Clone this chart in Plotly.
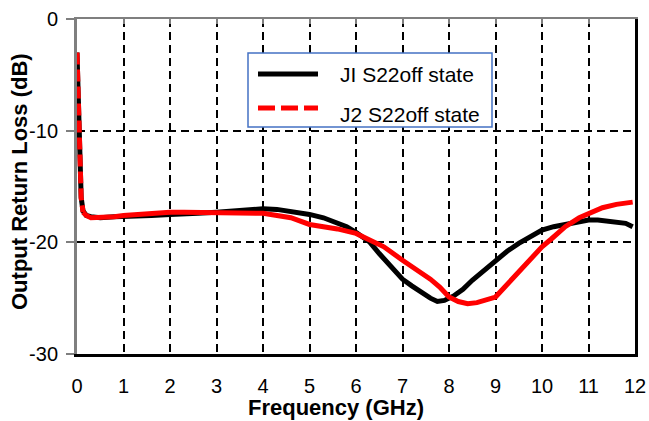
import plotly.graph_objects as go

# ---- data ----
freq_j1 = [0.0, 0.03, 0.06, 0.09, 0.13, 0.2, 0.3, 0.5, 0.8, 1.0, 1.3, 1.6, 2.0, 2.3, 2.6,
           3.0, 3.3, 3.6, 4.0, 4.3, 4.6, 5.0, 5.3, 5.5, 5.8, 6.0, 6.3, 6.5, 6.8, 7.0,
           7.2, 7.4, 7.6, 7.75, 7.9, 8.1, 8.3, 8.5, 8.75, 9.0, 9.25, 9.5, 9.75, 10.0,
           10.25, 10.5, 10.75, 11.0, 11.2, 11.4, 11.6, 11.8, 11.95]
loss_j1 = [-3.0, -8.0, -13.0, -16.0, -17.2, -17.6, -17.7, -17.8, -17.7, -17.7, -17.6,
           -17.6, -17.5, -17.5, -17.4, -17.3, -17.2, -17.1, -17.0, -17.05, -17.2, -17.5,
           -17.8, -18.1, -18.6, -19.1, -20.0, -21.0, -22.4, -23.3, -23.9, -24.5, -25.0,
           -25.3, -25.2, -24.8, -24.2, -23.4, -22.5, -21.6, -20.8, -20.1, -19.5, -18.9,
           -18.6, -18.4, -18.2, -18.0, -18.0, -18.1, -18.1, -18.3, -18.6]

freq_j2 = [0.0, 0.03, 0.06, 0.09, 0.13, 0.2, 0.3, 0.5, 0.8, 1.0, 1.3, 1.6, 2.0, 2.3, 2.6,
           3.0, 3.3, 3.6, 4.0, 4.3, 4.6, 5.0, 5.3, 5.6, 6.0, 6.3, 6.6, 7.0, 7.3, 7.6,
           7.8, 8.0, 8.2, 8.4, 8.6, 8.8, 9.0, 9.2, 9.5, 9.8, 10.0, 10.2, 10.5, 10.8,
           11.0, 11.3, 11.6, 11.95]
loss_j2 = [-3.0, -8.0, -13.0, -16.0, -17.3, -17.6, -17.8, -17.8, -17.7, -17.6, -17.5,
           -17.4, -17.3, -17.3, -17.3, -17.3, -17.3, -17.35, -17.4, -17.6, -17.8, -18.4,
           -18.6, -18.8, -19.2, -19.8, -20.4, -21.6, -22.4, -23.3, -24.0, -24.9, -25.3,
           -25.5, -25.4, -25.1, -24.9, -24.0, -22.6, -21.3, -20.4, -19.7, -18.6, -17.8,
           -17.4, -16.9, -16.6, -16.4]

series_names = ["JI S22off state", "J2 S22off state"]
x_ticks = list(range(0, 13))
y_ticks = [0, -10, -20, -30]
x_title = "Frequency (GHz)"
y_title = "Output Return Loss (dB)"

FONT = "Liberation Sans, Arial, sans-serif"
STEEP = 5  # first points of the steep drop, where the red dashes show over black

fig = go.Figure()
fig.add_trace(go.Scatter(x=freq_j1, y=loss_j1, mode="lines", name=series_names[0],
                         line=dict(color="black", width=5), showlegend=False))
fig.add_trace(go.Scatter(x=freq_j2[STEEP - 1:], y=loss_j2[STEEP - 1:], mode="lines",
                         name=series_names[1], line=dict(color="#FF0000", width=5),
                         showlegend=False))
fig.add_trace(go.Scatter(x=freq_j2[:STEEP], y=loss_j2[:STEEP], mode="lines",
                         name=series_names[1], line=dict(color="#FF0000", width=5,
                                                         dash="12px,5px"),
                         showlegend=False))
# helper trace for the top / right frame axes
fig.add_trace(go.Scatter(x=[None], y=[None], xaxis="x2", yaxis="y2",
                         showlegend=False, hoverinfo="skip"))

fig.update_layout(
    width=649, height=421,
    margin=dict(l=77, r=14, t=19, b=67),
    paper_bgcolor="white", plot_bgcolor="white",
    font=dict(family=FONT, size=20, color="black"),
    showlegend=False,
    xaxis=dict(range=[0, 12], tickvals=x_ticks, ticktext=[str(v) for v in x_ticks],
               showgrid=True, gridcolor="black", gridwidth=1.5, griddash="8px,5px",
               zeroline=False, showline=True, linecolor="black", linewidth=3,
               ticks="outside", ticklen=12, tickcolor="rgba(0,0,0,0)",
               tickfont=dict(size=20), automargin=False),
    yaxis=dict(range=[-30, 0], tickvals=y_ticks, ticktext=[str(v) for v in y_ticks],
               showgrid=True, gridcolor="black", gridwidth=1.5, griddash="8px,5px",
               zeroline=False, showline=True, linecolor="#7f7f7f", linewidth=3,
               ticks="outside", ticklen=8, tickcolor="#7f7f7f", tickwidth=1.5,
               ticklabelstandoff=4, tickfont=dict(size=20), automargin=False),
    xaxis2=dict(range=[0, 12], overlaying="x", side="top", anchor="y",
                tickvals=x_ticks, showticklabels=False, showgrid=False, zeroline=False,
                showline=True, linecolor="#7f7f7f", linewidth=2, automargin=False,
                ticks="inside", ticklen=5, tickcolor="#7f7f7f", tickwidth=1.5),
    yaxis2=dict(range=[-30, 0], overlaying="y", side="right", anchor="x",
                showticklabels=False, showgrid=False, zeroline=False, ticks="",
                automargin=False,
                showline=True, linecolor="black", linewidth=3),
)

# pixel helpers for decorations (legend box, titles)
px0, px1 = 77, 635
py0, py1 = 19, 354
def xp(p):
    return (p - px0) / (px1 - px0)
def yp(p):
    return (py1 - p) / (py1 - py0)

fig.add_annotation(xref="paper", yref="paper", x=xp(336), y=yp(407), xanchor="center",
                   yanchor="middle", text="<b>" + x_title + "</b>", showarrow=False,
                   font=dict(size=22, family=FONT))
fig.add_annotation(xref="paper", yref="paper", x=xp(19), y=yp(182), xanchor="center",
                   yanchor="middle", text="<b>" + y_title + "</b>", showarrow=False,
                   textangle=-90, font=dict(size=22, family=FONT))

fig.add_shape(type="rect", xref="paper", yref="paper", x0=xp(248), x1=xp(492),
              y0=yp(127), y1=yp(53), line=dict(color="#4472C4", width=1.5),
              fillcolor="white", layer="above")
fig.add_shape(type="line", xref="paper", yref="paper", x0=xp(258), x1=xp(318),
              y0=yp(74), y1=yp(74), line=dict(color="black", width=5), layer="above")
fig.add_shape(type="line", xref="paper", yref="paper", x0=xp(258), x1=xp(318),
              y0=yp(108), y1=yp(108), line=dict(color="#FF0000", width=5, dash="17px,6px"),
              layer="above")
fig.add_annotation(xref="paper", yref="paper", x=xp(338), y=yp(75), xanchor="left",
                   yanchor="middle", text=series_names[0], showarrow=False,
                   font=dict(size=21, family=FONT))
fig.add_annotation(xref="paper", yref="paper", x=xp(338), y=yp(114), xanchor="left",
                   yanchor="middle", text=series_names[1], showarrow=False,
                   font=dict(size=21, family=FONT))

fig.write_html("out.html", config={"displayModeBar": False})

# remove the default page margin so the figure sits at the window's top-left corner
with open("out.html", "r", encoding="utf-8") as f:
    html = f.read()
html = html.replace("<head>", "<head><style>html,body{margin:0;padding:0;overflow:hidden;}</style>", 1)
with open("out.html", "w", encoding="utf-8") as f:
    f.write(html)
